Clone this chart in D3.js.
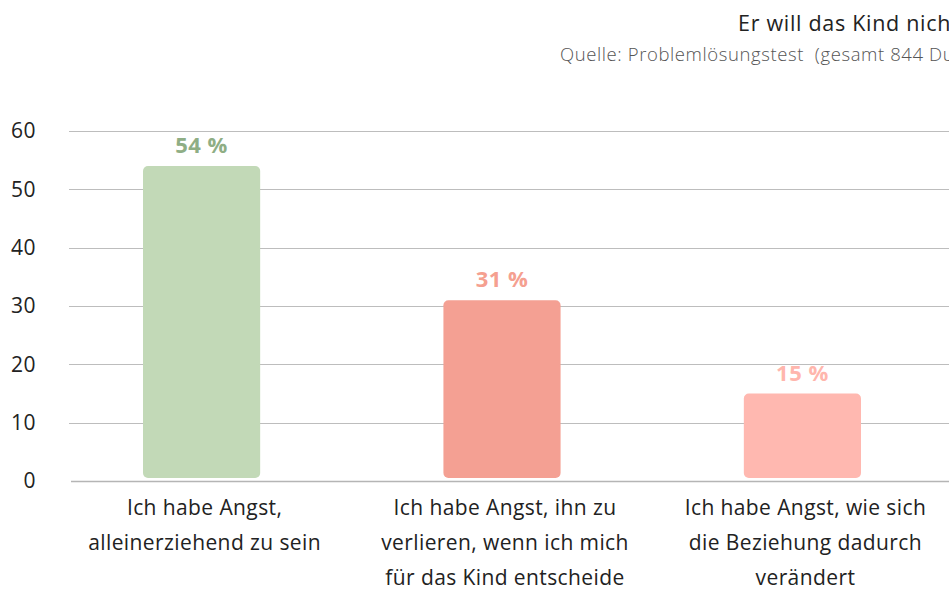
<!DOCTYPE html>
<html lang="de">
<head>
<meta charset="utf-8">
<script src="https://cdn.jsdelivr.net/npm/d3@7"></script>
<style>
  html, body { margin: 0; padding: 0; background: #fff; overflow: hidden; }
  svg { display: block; font-family: "Open Sans", Lato, sans-serif; }
</style>
</head>
<body>
<svg id="chart" width="949" height="592"></svg>
<script>
// Antworten auf "Er will das Kind nicht"
const categories = [
  ["Ich habe Angst,", "alleinerziehend zu sein"],
  ["Ich habe Angst, ihn zu", "verlieren, wenn ich mich", "für das Kind entscheide"],
  ["Ich habe Angst, wie sich", "die Beziehung dadurch", "verändert"]
];
const values = [54, 31, 15];
const barColors = ["#c2d9b7", "#f4a093", "#ffb8b0"];
const labelColors = ["#8fae85", "#f5a090", "#ffb6ad"];
const yTicks = [0, 10, 20, 30, 40, 50, 60];
const title = "Er will das Kind nicht";
const subtitle = "Quelle: Problemlösungstest  (gesamt 844 Durchläufe)";

const W = 949, H = 592;
const svg = d3.select("#chart");
const keys = categories.map((c, i) => i);

const y = d3.scaleLinear().domain([0, 60]).range([481, 131]);
const x = d3.scaleBand().domain(keys).range([70, 934])
  .paddingInner(0.61).paddingOuter(0.243);

// Titel und Quelle (laufen rechts über den sichtbaren Bereich hinaus)
svg.append("text")
  .attr("x", 738).attr("y", 31)
  .attr("font-size", 21.5).attr("font-weight", 400).attr("fill", "#222")
  .attr("letter-spacing", 0.7)
  .text(title);
svg.append("text")
  .attr("x", 560).attr("y", 61)
  .attr("font-size", 18.5).attr("font-weight", 300).attr("fill", "#555")
  .attr("letter-spacing", 0.6)
  .style("white-space", "pre")
  .text(subtitle);

// Gitterlinien und y-Achse
const yAxis = d3.axisLeft(y).tickValues(yTicks).tickSize(0).tickPadding(0);
const gy = svg.append("g").attr("transform", "translate(36,0)").call(yAxis);
gy.select(".domain").remove();
gy.selectAll("text")
  .attr("font-family", "'Open Sans', Lato, sans-serif")
  .attr("font-size", 21).attr("fill", "#222")
  .attr("letter-spacing", 0.5);

svg.append("g").selectAll("line")
  .data(yTicks)
  .join("line")
  .attr("x1", d => d === 0 ? 71 : 69).attr("x2", W)
  .attr("y1", d => Math.round(y(d)) + 0.5).attr("y2", d => Math.round(y(d)) + 0.5)
  .attr("stroke", d => d === 0 ? "#b5b5b5" : "#bdbdbd")
  .attr("stroke-width", d => d === 0 ? 1.5 : 1);

// Balken
svg.append("g").selectAll("rect")
  .data(values)
  .join("rect")
  .attr("x", (d, i) => x(i))
  .attr("width", x.bandwidth())
  .attr("y", d => y(d))
  .attr("height", d => y(0) - 3 - y(d))
  .attr("rx", 5).attr("ry", 5)
  .attr("fill", (d, i) => barColors[i]);

// Wertbeschriftungen
svg.append("g").selectAll("text")
  .data(values)
  .join("text")
  .attr("x", (d, i) => x(i) + x.bandwidth() / 2)
  .attr("y", d => y(d) - 13)
  .attr("text-anchor", "middle")
  .attr("font-size", 22).attr("font-weight", 700)
  .attr("letter-spacing", 0.5)
  .attr("fill", (d, i) => labelColors[i])
  .text(d => d + " %");

// Kategorienbeschriftungen
const cat = svg.append("g").selectAll("text")
  .data(categories)
  .join("text")
  .attr("text-anchor", "middle")
  .attr("font-size", 21).attr("fill", "#222")
  .attr("letter-spacing", 0.4)
  .attr("transform", (d, i) => `translate(${x(i) + x.bandwidth() / 2 + 3},${y(0) + 34})`);
cat.selectAll("tspan")
  .data(d => d)
  .join("tspan")
  .attr("x", 0)
  .attr("y", (d, i) => i * 35)
  .text(d => d);
</script>
</body>
</html>
